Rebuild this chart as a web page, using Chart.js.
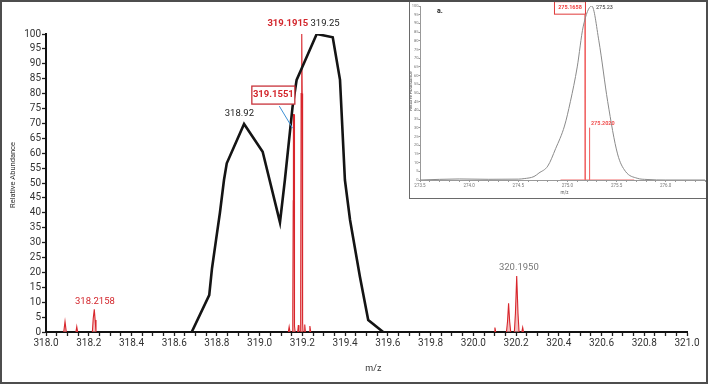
<!DOCTYPE html>
<html>
<head>
<meta charset="utf-8">
<script src="https://cdn.jsdelivr.net/npm/chart.js@4.4.0/dist/chart.umd.min.js"></script>
<style>
    html, body { margin: 0; padding: 0; background: #fff; }
    #wrap { position: relative; width: 708px; height: 384px; overflow: hidden; }
    #main { position: absolute; left: 0; top: 0; }
    #insetBox { position: absolute; left: 409px; top: -1px; width: 298px; height: 200px;
        border: 1px solid #6a6a6a; box-sizing: border-box; background: #fff; }
    #inset { position: absolute; left: 0; top: 0; }
    #frame { position: absolute; left: 0; top: 0; width: 708px; height: 384px;
        border: 2px solid #4d4d4d; box-sizing: border-box; pointer-events: none; }
</style>
</head>
<body>
<div id="wrap">
    <canvas id="main" width="708" height="384"></canvas>
    <div id="insetBox"><canvas id="inset" width="296" height="198"></canvas></div>
    <div id="frame"></div>
</div>
<script>
    "use strict";

    // main spectrum: broad black profile
    const profileMz = [318.682, 318.764, 318.777, 318.796, 318.814, 318.833, 318.846, 318.927, 319.014,
        319.095, 319.118, 319.154, 319.173, 319.197, 319.267, 319.342, 319.376, 319.399, 319.423,
        319.469, 319.508, 319.578];
    const profileAb = [0, 12.4, 21.4, 31, 40, 51, 56.6, 69.8, 60.5,
        36.8, 51, 75.6, 84.6, 88.5, 100, 98.9, 84.6, 51, 37.6,
        18.6, 4, 0];

    // main spectrum: narrow red peaks (null = gap between peaks)
    const peaksMz = [
        318.083, 318.089, 318.095, null,
        318.140, 318.144, 318.148, null,
        318.217, 318.221, 318.226, 318.230, 318.234, null,
        319.134, 319.138, 319.142, null,
        319.153, 319.155, 319.157, 319.158, 319.161, 319.162, 319.164, 319.166, null,
        319.178, 319.181, 319.184, null,
        319.190, 319.192, 319.194, 319.197, 319.199, 319.201, 319.203, null,
        319.208, 319.211, 319.214, null,
        319.231, 319.235, 319.239, null,
        320.097, 320.101, 320.105, null,
        320.155, 320.160, 320.165, 320.170, 320.175, null,
        320.192, 320.197, 320.203, 320.209, 320.214, null,
        320.227, 320.231, 320.235
    ];
    const peaksAb = [
        0, 3.5, 0, null,
        0, 1.8, 0, null,
        0, 4.5, 7.6, 4, 0, null,
        0, 1.8, 0, null,
        0, 6.8, 44, 73, 73, 44, 2, 0, null,
        0, 2.3, 0, null,
        0, 11.8, 80, 100, 80, 3, 0, null,
        0, 2.5, 0, null,
        0, 2, 0, null,
        0, 1.5, 0, null,
        0, 3.5, 9.6, 3.5, 0, null,
        0, 6.3, 18.8, 6.3, 0, null,
        0, 1.5, 0
    ];

    // inset spectrum (a.)
    const insetMz = [273.5, 273.9, 274.2, 274.5, 274.56, 274.66, 274.71, 274.80, 274.88, 274.97,
        275.03, 275.10, 275.16, 275.248, 275.32, 275.41, 275.51, 275.59, 275.71, 275.81, 276.0, 276.4];
    const insetAb = [0, 0.6, 0.4, 0.5, 0.8, 2, 4, 8, 18, 31,
        45, 65, 88, 100, 80, 45, 15, 5, 1, 0.3, 0, 0];
    const insetPeakMz = [274.93, 275.175, 275.178, 275.181, 275.184, 275.221, 275.224, 275.227, 275.68];
    const insetPeakAb = [0, 0, 95, 95, 0, 0, 30, 0, 0];

    const FONT = 'Roboto, "Liberation Sans", sans-serif';

    const toPoints = (xs, ys) => xs.map((v, i) => ({x: v === null ? NaN : v, y: ys[i]}));

    const isMultiple = (v, step) => Math.abs(v / step - Math.round(v / step)) < 1e-6;

    // draws free text, boxes and leader lines placed in data units
    const notesPlugin = {
        id: 'notes',
        afterDraw: function (chart, args, opts) {
            const ctx = chart.ctx;
            const sx = chart.scales.x;
            const sy = chart.scales.y;

            (opts.lines || []).forEach((l) => {
                ctx.save();
                ctx.strokeStyle = l.color;
                ctx.lineWidth = l.width;
                ctx.beginPath();
                ctx.moveTo(sx.getPixelForValue(l.from[0]), sy.getPixelForValue(l.from[1]));
                ctx.lineTo(sx.getPixelForValue(l.to[0]), sy.getPixelForValue(l.to[1]));
                ctx.stroke();
                ctx.restore();
            });

            (opts.items || []).forEach((n) => {
                ctx.save();
                ctx.translate(sx.getPixelForValue(n.x), sy.getPixelForValue(n.y));
                if (n.rotate) {
                    ctx.rotate(n.rotate);
                }
                if (n.box) {
                    ctx.fillStyle = '#fff';
                    ctx.fillRect(-n.box[0] / 2, -n.box[1] / 2, n.box[0], n.box[1]);
                    ctx.strokeStyle = n.boxColor || n.color;
                    ctx.lineWidth = n.boxWidth || 1.2;
                    ctx.strokeRect(-n.box[0] / 2, -n.box[1] / 2, n.box[0], n.box[1]);
                }
                ctx.font = n.font;
                ctx.fillStyle = n.color;
                ctx.textAlign = 'center';
                ctx.textBaseline = 'middle';
                ctx.fillText(n.text, 0, 0);
                ctx.restore();
            });
        }
    };

    new Chart(document.getElementById('main'), {
        type: 'scatter',
        data: {
            datasets: [{
                data: toPoints(profileMz, profileAb),
                showLine: true,
                borderColor: '#141414',
                borderWidth: 2.6,
                pointRadius: 0,
                tension: 0
            }, {
                data: toPoints(peaksMz, peaksAb),
                showLine: true,
                spanGaps: false,
                borderColor: '#d8262c',
                borderWidth: 1.1,
                backgroundColor: 'rgba(236, 150, 150, 0.6)',
                fill: 'origin',
                pointRadius: 0,
                tension: 0
            }]
        },
        options: {
            responsive: false,
            animation: false,
            layout: {padding: {top: 34, right: 21, left: 0, bottom: 0}},
            plugins: {
                legend: {display: false},
                tooltip: {enabled: false},
                notes: {
                    lines: [
                        {from: [319.092, 75.8], to: [319.154, 68.4], color: '#3b8fd4', width: 1}
                    ],
                    items: [
                        {text: '319.1915', x: 319.132, y: 103.4, font: 'bold 9.5px ' + FONT, color: '#d3262c'},
                        {text: '319.25', x: 319.306, y: 103.4, font: '9.5px ' + FONT, color: '#222'},
                        {text: '318.92', x: 318.905, y: 73.2, font: '9.5px ' + FONT, color: '#222'},
                        {text: '319.1551', x: 319.064, y: 79.5, font: 'bold 9.5px ' + FONT, color: '#d3262c',
                            box: [43, 18], boxColor: '#c8323a', boxWidth: 1.3},
                        {text: '318.2158', x: 318.229, y: 10.2, font: '9.5px ' + FONT, color: '#d3262c'},
                        {text: '320.1950', x: 320.213, y: 21.6, font: '9.5px ' + FONT, color: '#777'},
                        {text: 'm/z', x: 319.532, y: -12.2, font: '9px ' + FONT, color: '#333'},
                        {text: 'Relative Abundance', x: 317.847, y: 52.7, font: '7.5px ' + FONT, color: '#333',
                            rotate: -Math.PI / 2}
                    ]
                }
            },
            scales: {
                x: {
                    type: 'linear',
                    min: 318,
                    max: 321,
                    afterFit: (scale) => { scale.height = 52; },
                    ticks: {
                        stepSize: 0.05,
                        autoSkip: false,
                        maxRotation: 0,
                        padding: 1,
                        color: '#333',
                        font: {family: FONT, size: 10},
                        callback: (v) => isMultiple(v, 0.2) ? v.toFixed(1) : ''
                    },
                    grid: {drawOnChartArea: false, tickLength: 4, color: '#222', tickWidth: 1.3},
                    border: {color: '#111', width: 2}
                },
                y: {
                    min: 0,
                    max: 100,
                    afterFit: (scale) => { scale.width = 46; },
                    ticks: {
                        stepSize: 5,
                        autoSkip: false,
                        padding: 1,
                        color: '#333',
                        font: {family: FONT, size: 10}
                    },
                    grid: {drawOnChartArea: false, tickLength: 4, color: '#222', tickWidth: 1.3},
                    border: {color: '#111', width: 2}
                }
            }
        },
        plugins: [notesPlugin]
    });

    // inset a.
    new Chart(document.getElementById('inset'), {
        type: 'scatter',
        data: {
            datasets: [{
                data: toPoints(insetMz, insetAb),
                showLine: true,
                borderColor: '#8a8a8a',
                borderWidth: 1,
                pointRadius: 0,
                cubicInterpolationMode: 'monotone'
            }, {
                data: toPoints(insetPeakMz, insetPeakAb),
                showLine: true,
                borderColor: '#f06a6a',
                borderWidth: 1,
                pointRadius: 0,
                tension: 0
            }]
        },
        options: {
            responsive: false,
            animation: false,
            layout: {padding: {top: 6, right: 1, left: 0, bottom: 0}},
            plugins: {
                legend: {display: false},
                tooltip: {enabled: false},
                notes: {
                    items: [
                        {text: '275.23', x: 275.377, y: 99.3, font: '5.5px ' + FONT, color: '#333'},
                        {text: '275.1658', x: 275.026, y: 98.9, font: 'bold 5.5px ' + FONT, color: '#f03c3c',
                            box: [31, 12.5], boxColor: '#e03a3a', boxWidth: 1},
                        {text: '275.2020', x: 275.36, y: 32.2, font: 'bold 5.5px ' + FONT, color: '#f05050'},
                        {text: 'a.', x: 273.703, y: 97.1, font: 'bold 7px ' + FONT, color: '#222'},
                        {text: 'Relative Abundance', x: 273.403, y: 51.1, font: '4.5px ' + FONT, color: '#555',
                            rotate: -Math.PI / 2},
                        {text: 'm/z', x: 274.97, y: -7.6, font: '4.5px ' + FONT, color: '#555'}
                    ]
                }
            },
            scales: {
                x: {
                    type: 'linear',
                    min: 273.5,
                    max: 276.4,
                    afterFit: (scale) => { scale.height = 18; },
                    ticks: {
                        stepSize: 0.1,
                        autoSkip: false,
                        maxRotation: 0,
                        padding: 1,
                        color: '#777',
                        font: {family: FONT, size: 4.5},
                        callback: (v) => isMultiple(v, 0.5) ? v.toFixed(1) : ''
                    },
                    grid: {drawOnChartArea: false, tickLength: 2, color: '#999'},
                    border: {color: '#999', width: 1}
                },
                y: {
                    min: 0,
                    max: 100,
                    afterFit: (scale) => { scale.width = 10; },
                    ticks: {
                        stepSize: 5,
                        autoSkip: false,
                        padding: 0,
                        color: '#777',
                        font: {family: FONT, size: 4}
                    },
                    grid: {drawOnChartArea: false, tickLength: 1.5, color: '#999'},
                    border: {color: '#999', width: 1}
                }
            }
        },
        plugins: [notesPlugin]
    });
</script>
</body>
</html>
